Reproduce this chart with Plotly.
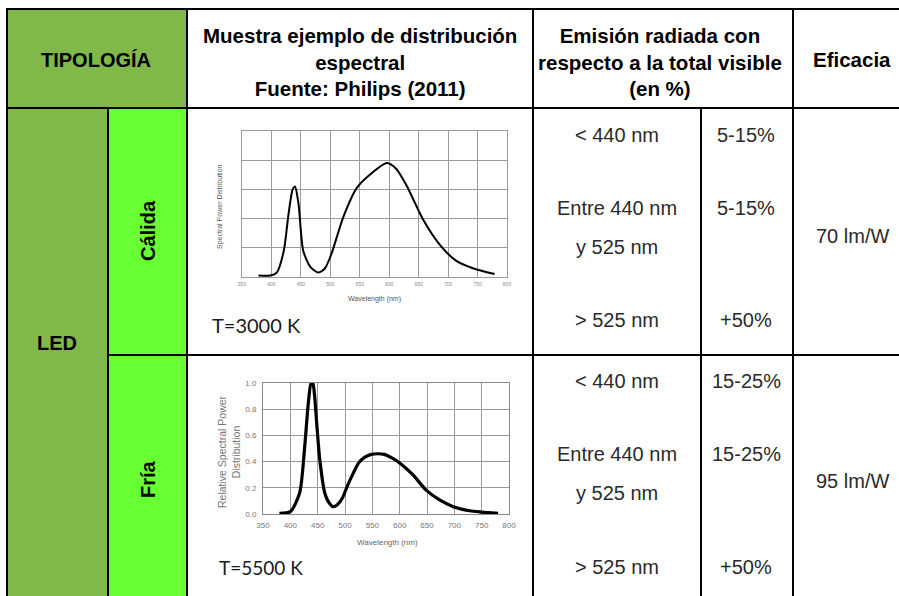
import plotly.graph_objects as go

W, H = 899, 596

# ---------------- data ----------------
wl_warm = [378, 398, 409, 421, 429, 436, 440, 446, 454, 466, 480, 491, 502, 522, 545, 567,
           596, 612, 629, 658, 686, 714, 742, 779]
spd_warm = [0.01, 0.01, 0.03, 0.18, 0.43, 0.60, 0.62, 0.50, 0.18, 0.07, 0.03, 0.06, 0.16, 0.41,
            0.61, 0.70, 0.78, 0.74, 0.63, 0.39, 0.22, 0.11, 0.06, 0.02]

wl_cool = [380, 400, 417, 426, 433, 438, 441, 444, 449, 454, 463, 470, 478, 486, 495, 505,
           515, 525, 535, 548, 560, 572, 585, 600, 624, 649, 673, 698, 728, 750, 780]
spd_cool = [0.005, 0.018, 0.16, 0.50, 0.85, 1.0, 1.0, 0.92, 0.65, 0.41, 0.16, 0.09, 0.056,
            0.07, 0.12, 0.22, 0.31, 0.39, 0.43, 0.455, 0.46, 0.455, 0.43, 0.39, 0.30, 0.18,
            0.107, 0.056, 0.025, 0.015, 0.005]

x_ticks = [350, 400, 450, 500, 550, 600, 650, 700, 750, 800]
y_ticks_cool = [0.0, 0.2, 0.4, 0.6, 0.8, 1.0]

header_tipologia = "TIPOLOGÍA"
header_muestra = "Muestra ejemplo de distribución<br>espectral<br>Fuente: Philips (2011)"
header_emision = "Emisión radiada con<br>respecto a la total visible<br>(en %)"
header_eficacia = "Eficacia"
group_label = "LED"
sub_labels = ["Cálida", "Fría"]
temp_labels = ["T=3000 K", "T=5500 K"]
range_labels = ["< 440 nm", "Entre 440 nm", "y 525 nm", "> 525 nm"]
pct_warm = ["5-15%", "5-15%", "+50%"]
pct_cool = ["15-25%", "15-25%", "+50%"]
efficacy = ["70 lm/W", "95 lm/W"]


def px(x):
    return x / W


def py(y):
    return 1 - y / H


fig = go.Figure()

fig.add_trace(go.Scatter(x=wl_warm, y=spd_warm, mode="lines", xaxis="x", yaxis="y",
                         line=dict(color="black", width=2, shape="spline", smoothing=0.7),
                         showlegend=False, hoverinfo="skip"))
fig.add_trace(go.Scatter(x=wl_cool, y=spd_cool, mode="lines", xaxis="x2", yaxis="y2",
                         line=dict(color="black", width=3.2, shape="spline", smoothing=0.7),
                         showlegend=False, hoverinfo="skip"))

OLIVE = "#80B84A"
LIME = "#68FF33"
shapes = []


def rect(x0, y0, x1, y1, color):
    shapes.append(dict(type="rect", xref="paper", yref="paper", x0=px(x0), x1=px(x1),
                       y0=py(y1), y1=py(y0), fillcolor=color, line=dict(width=0), layer="below"))


def line(x0, y0, x1, y1, w=2):
    shapes.append(dict(type="line", xref="paper", yref="paper", x0=px(x0), x1=px(x1),
                       y0=py(y0), y1=py(y1), line=dict(color="black", width=w)))


rect(7, 9, 187, 108, OLIVE)
rect(7, 108, 108, 600, OLIVE)
rect(108, 108, 187, 355, LIME)
rect(108, 355, 187, 600, LIME)

line(6, 9, 905, 9)
line(7, 8, 7, 600)
line(6, 108, 905, 108)
line(187, 8, 187, 600)
line(108, 108, 108, 600)
line(533, 8, 533, 600)
line(701, 108, 701, 600)
line(793, 8, 793, 600)
line(108, 355, 905, 355)

ann = []
TF = "Liberation Sans, Arial, sans-serif"


def text(x, y, s, size=21, color="#2a2a2a", bold=False, angle=0, xanchor="center", family=TF):
    ann.append(dict(x=px(x), y=py(y), xref="paper", yref="paper", showarrow=False,
                    text=("<b>%s</b>" % s) if bold else s, textangle=angle,
                    xanchor=xanchor, yanchor="middle", align="center",
                    font=dict(family=family, size=size, color=color)))


text(96, 60, header_tipologia, size=20, color="black", bold=True)
text(360, 62, header_muestra, size=20.5, color="black", bold=True)
text(660, 62, header_emision, size=20.5, color="black", bold=True)
text(852, 60, header_eficacia, size=20.5, color="black", bold=True)
text(57, 343, group_label, size=20, color="black", bold=True)
text(148, 231, sub_labels[0], size=20, color="black", bold=True, angle=-90)
text(148, 479, sub_labels[1], size=20, color="black", bold=True, angle=-90)

row_y = [[135, 208, 247, 320], [381, 454, 493, 567]]
for r, ys in enumerate(row_y):
    for s, yy in zip(range_labels, ys):
        text(617, yy, s, size=20)
    pcts = pct_warm if r == 0 else pct_cool
    for s, yy in zip(pcts, [ys[0], ys[1], ys[3]]):
        text(746, yy, s, size=20)
text(852, 236, efficacy[0], size=20)
text(852, 481, efficacy[1], size=20)

text(210, 325, temp_labels[0], size=20, xanchor="left", family="Lato, sans-serif", color="#1a1a1a")
text(217, 567, temp_labels[1], size=19, xanchor="left", family="Lato, sans-serif", color="#1a1a1a")

# axis titles of the embedded spectra
text(374, 299, "Wavelength (nm)", size=7, color="#555")
text(220, 207, "Spectral Power Distribution", size=7, color="#555", angle=-90)
text(387, 542, "Wavelength (nm)", size=8, color="#666")
text(229, 452, "Relative Spectral Power<br>Distribution", size=10.5, color="#777", angle=-90)

grid1 = "#9a9a9a"
fig.update_layout(
    width=W, height=H, margin=dict(l=0, r=0, t=0, b=0, pad=0, autoexpand=False),
    paper_bgcolor="white", plot_bgcolor="white",
    shapes=shapes, annotations=ann, showlegend=False,
    xaxis=dict(domain=[px(242), px(507)], range=[350, 800], tickvals=x_ticks,
               showgrid=True, gridcolor=grid1, gridwidth=1, zeroline=False,
               showline=True, linecolor=grid1, mirror=True, ticks="", automargin=False,
               tickfont=dict(size=5, color="#888", family=TF), anchor="y",
               ticklabelstandoff=2, fixedrange=True),
    yaxis=dict(domain=[py(277), py(131)], range=[0, 1], dtick=0.2, showticklabels=False,
               showgrid=True, gridcolor=grid1, zeroline=False, showline=True, automargin=False,
               linecolor=grid1, mirror=True, ticks="", anchor="x", fixedrange=True),
    yaxis3=dict(overlaying="y", anchor="x", range=[0, 1], tickvals=[0.2, 0.4], automargin=False,
                showticklabels=False, showgrid=True, gridcolor="#555", gridwidth=1.3,
                zeroline=False, showline=False, ticks="", fixedrange=True),
    xaxis2=dict(domain=[px(263), px(509)], range=[350, 800], tickvals=x_ticks,
                showgrid=True, gridcolor="#999", zeroline=False, showline=True,
                linecolor="#888", mirror=True, ticks="", automargin=False,
                tickfont=dict(size=8, color="#777", family=TF), anchor="y2",
                ticklabelstandoff=3, fixedrange=True),
    yaxis2=dict(domain=[py(514), py(383)], range=[0, 1.0], tickvals=y_ticks_cool,
                tickformat=".1f", showgrid=True, gridcolor="#999", zeroline=False,
                showline=True, linecolor="#888", mirror=True, ticks="", automargin=False,
                tickfont=dict(size=8, color="#777", family=TF), anchor="x2",
                ticklabelstandoff=4, fixedrange=True),
)

fig.write_html("out.html", config={"displayModeBar": False, "staticPlot": True},
               post_script="document.body.style.margin='0';")
